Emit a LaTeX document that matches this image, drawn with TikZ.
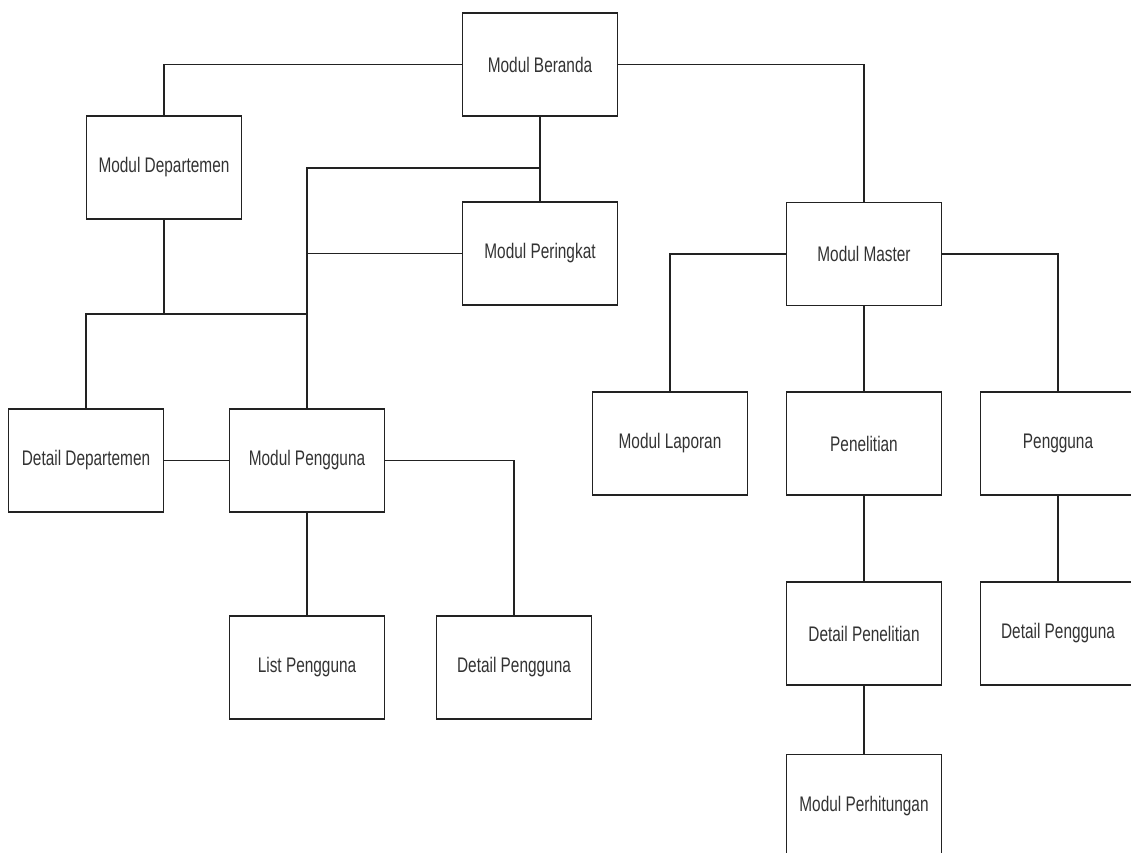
\documentclass[tikz,border=0pt]{standalone}
\usepackage{fontspec}
\setmainfont{Liberation Sans}[FakeStretch=0.73]
\usepackage{xcolor}
\usetikzlibrary{positioning}

\definecolor{txtgray}{HTML}{333333}
\definecolor{linegray}{HTML}{222222}

\begin{document}
\begin{tikzpicture}[x=0.02cm, y=-0.02cm,
  modul/.style={draw=linegray, line width=1pt, fill=white, minimum width=3.1cm, minimum height=2.06cm, inner sep=0pt, font=\fontsize{12}{14}\selectfont, text=txtgray},
  conn/.style={draw=linegray, line width=1pt}]
\useasboundingbox[fill=white] (0,0) rectangle (1131,852);
\clip (0,0) rectangle (1131,852);

% left part
\node[modul] (beranda) at (540,64.5) {Modul Beranda};
\node[modul] (departemen) at (164,167.5) {Modul Departemen};
\node[modul] (peringkat) at (540,253.5) {Modul Peringkat};
\node[modul] (detdept) at (86,460.5) {Detail Departemen};
\node[modul] (pengguna) at (307,460.5) {Modul Pengguna};
\node[modul] (listpengguna) at (307,667.5) {List Pengguna};
\node[modul] (detpengguna) at (514,667.5) {Detail Pengguna};

% right part
\node[modul] (master) at (864,254) {Modul Master};
\node[modul] (laporan) at (670,443.5) {Modul Laporan};
\node[modul] (penelitian) at (864,443.5) {Penelitian};
\node[modul] (mpengguna) at (1058,443.5) {Pengguna};
\node[modul] (detpenelitian) at (864,633.5) {Detail Penelitian};
\node[modul] (mdetpengguna) at (1058,633.5) {Detail Pengguna};
\node[modul] (perhitungan) at (864,806) {Modul Perhitungan};

\coordinate (jberanda) at (540,168);
\coordinate (jdept) at (164,314);

\draw[conn] (beranda.west) -| (departemen.north);
\draw[conn] (beranda.east) -| (master.north);
\draw[conn] (beranda.south) -- (peringkat.north);
\draw[conn] (jberanda) -| (pengguna.north);
\draw[conn] (peringkat.west) -- (peringkat.west -| pengguna.north);
\draw[conn] (departemen.south) -- (jdept);
\draw[conn] (jdept -| pengguna.north) -| (detdept.north);
\draw[conn] (detdept.east) -- (pengguna.west);
\draw[conn] (pengguna.south) -- (listpengguna.north);
\draw[conn] (pengguna.east) -| (detpengguna.north);

\draw[conn] (master.west) -| (laporan.north);
\draw[conn] (master.south) -- (penelitian.north);
\draw[conn] (master.east) -| (mpengguna.north);
\draw[conn] (penelitian.south) -- (detpenelitian.north);
\draw[conn] (mpengguna.south) -- (mdetpengguna.north);
\draw[conn] (detpenelitian.south) -- (perhitungan.north);
\end{tikzpicture}
\end{document}
